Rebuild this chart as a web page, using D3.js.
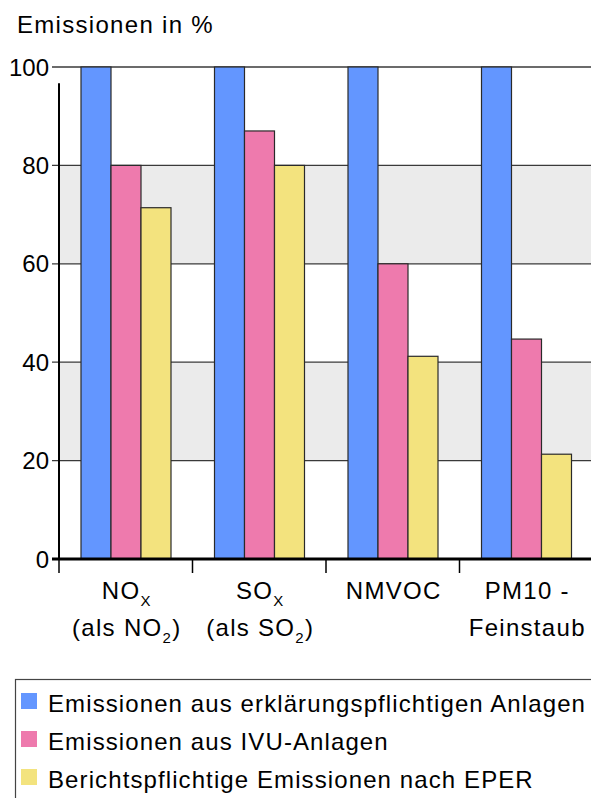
<!DOCTYPE html>
<html>
<head>
<meta charset="utf-8">
<script src="https://cdn.jsdelivr.net/npm/d3@7/dist/d3.min.js"></script>
<style>
  html, body { margin: 0; padding: 0; background: #fff; }
  svg { display: block; font-family: "Liberation Sans", Arial, sans-serif; }
</style>
</head>
<body>
<svg id="chart" width="591" height="798"></svg>
<script>
// Emission shares per pollutant (percent of emissions from reportable plants)
const categories = ["NOx", "SOx", "NMVOC", "PM10"];
const seriesNames = [
  "Emissionen aus erklärungspflichtigen Anlagen",
  "Emissionen aus IVU-Anlagen",
  "Berichtspflichtige Emissionen nach EPER"
];
const erklaerungspflichtig = [100, 100, 100, 100];
const ivu = [80, 87, 60, 44.7];
const eper = [71.4, 80, 41.2, 21.3];
const yTicks = [0, 20, 40, 60, 80, 100];
const colors = ["#6396ff", "#ee7aad", "#f3e37e"];

// Category labels, with subscript parts: [main, sub, tail]
const labelLines = {
  NOx:   [["NO", "X", ""], ["(als NO", "2", ")"]],
  SOx:   [["SO", "X", ""], ["(als SO", "2", ")"]],
  NMVOC: [["NMVOC", "", ""]],
  PM10:  [["PM10 -", "", ""], ["Feinstaub", "", ""]]
};

const series = [erklaerungspflichtig, ivu, eper];

const svg = d3.select("#chart");
const plotLeft = 59, plotRight = 593, plotTop = 67, plotBottom = 559;

const x = d3.scaleBand().domain(categories).range([plotLeft, plotRight]).paddingInner(0).paddingOuter(0);
const xs = d3.scaleBand().domain(d3.range(series.length)).range([22, 112]);
const y = d3.scaleLinear().domain([0, 100]).range([plotBottom, plotTop]);

// Alternating grey bands
const bands = [[20, 40], [60, 80]];
svg.append("g").selectAll("rect").data(bands).join("rect")
  .attr("x", plotLeft).attr("width", 591 - plotLeft)
  .attr("y", d => y(d[1])).attr("height", d => y(d[0]) - y(d[1]))
  .attr("fill", "#ebebeb");

// Horizontal grid lines with left ticks
svg.append("g").selectAll("line").data(yTicks.filter(t => t > 0)).join("line")
  .attr("x1", plotLeft - 7).attr("x2", 591)
  .attr("y1", d => y(d)).attr("y2", d => y(d))
  .attr("stroke", "#3a3a3a").attr("stroke-width", 1.3);

// Bars
const groups = svg.append("g").selectAll("g").data(categories).join("g")
  .attr("transform", c => `translate(${x(c)},0)`);
groups.selectAll("rect").data((c, ci) => series.map((s, si) => ({ si, v: s[ci] }))).join("rect")
  .attr("x", d => xs(d.si)).attr("width", xs.bandwidth())
  .attr("y", d => y(d.v)).attr("height", d => y(0) - y(d.v))
  .attr("fill", d => colors[d.si])
  .attr("stroke", "#2a2a2a").attr("stroke-width", 1.2);

// Left axis line
svg.append("line")
  .attr("x1", plotLeft).attr("x2", plotLeft)
  .attr("y1", y(96.7)).attr("y2", plotBottom)
  .attr("stroke", "#000").attr("stroke-width", 2);

// Y tick labels
svg.append("g").selectAll("text").data(yTicks).join("text")
  .attr("x", 49).attr("y", d => y(d) + 8.5)
  .attr("text-anchor", "end").attr("font-size", 24)
  .attr("fill", "#000")
  .text(d => d);

// Baseline and category ticks
svg.append("line")
  .attr("x1", plotLeft - 7).attr("x2", 591)
  .attr("y1", plotBottom).attr("y2", plotBottom)
  .attr("stroke", "#000").attr("stroke-width", 3);
svg.append("g").selectAll("line").data(categories).join("line")
  .attr("x1", c => x(c)).attr("x2", c => x(c))
  .attr("y1", plotBottom).attr("y2", plotBottom + 14)
  .attr("stroke", "#000").attr("stroke-width", 1.5);

// Category labels
const labelBaselines = [599, 636];
categories.forEach(c => {
  const cx = x(c) + x.bandwidth() / 2;
  labelLines[c].forEach((parts, li) => {
    const t = svg.append("text")
      .attr("x", cx + 1).attr("y", labelBaselines[li])
      .attr("text-anchor", "middle").attr("font-size", 24)
      .attr("letter-spacing", 1.3).attr("fill", "#000");
    t.append("tspan").text(parts[0]);
    if (parts[1]) t.append("tspan").attr("font-size", 15).attr("dy", 7).text(parts[1]);
    if (parts[2]) t.append("tspan").attr("dy", -7).text(parts[2]);
  });
});

// Axis title
svg.append("text")
  .attr("x", 17).attr("y", 33)
  .attr("font-size", 24).attr("letter-spacing", 1.3).attr("fill", "#000")
  .text("Emissionen in %");

// Legend
const legend = svg.append("g");
legend.append("rect")
  .attr("x", 15.5).attr("y", 679.5).attr("width", 600).attr("height", 200)
  .attr("fill", "none").attr("stroke", "#444").attr("stroke-width", 1.2);
const rows = legend.selectAll("g").data(seriesNames).join("g")
  .attr("transform", (d, i) => `translate(0,${712 + i * 38})`);
rows.append("rect")
  .attr("x", 21).attr("y", -19).attr("width", 16).attr("height", 16)
  .attr("fill", (d, i) => colors[i]);
rows.append("text")
  .attr("x", 48).attr("y", 0)
  .attr("font-size", 24).attr("letter-spacing", 1.1).attr("fill", "#000")
  .text(d => d);
</script>
</body>
</html>
